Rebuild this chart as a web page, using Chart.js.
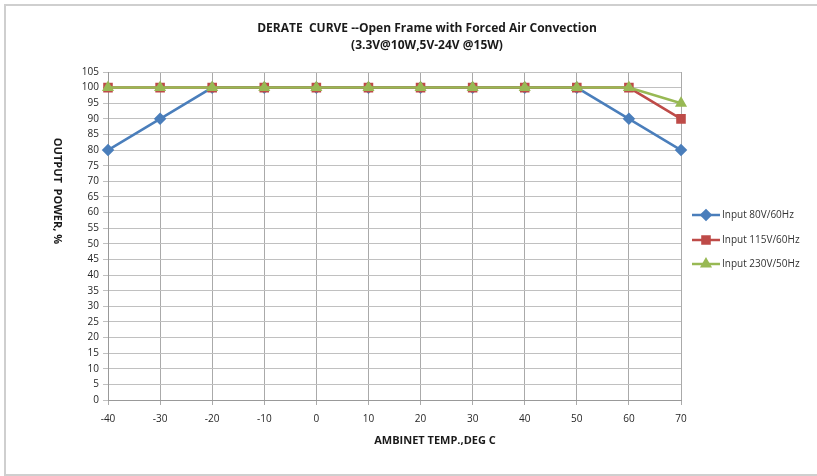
<!DOCTYPE html>
<html>
<head>
<meta charset="utf-8">
<script src="https://cdn.jsdelivr.net/npm/chart.js@4.4.0/dist/chart.umd.min.js"></script>
<style>
html,body{margin:0;padding:0;background:#fff;overflow:hidden;width:817px;height:476px;}
#frame{position:absolute;left:4px;top:4px;width:830px;height:468px;border:2px solid #cfcfcf;border-right:none;}
#wrap{position:absolute;left:0;top:0;width:817px;height:476px;}
</style>
</head>
<body>
<div id="frame"></div>
<div id="wrap"><canvas id="c" width="817" height="476"></canvas></div>
<script>
const categories = ['-40','-30','-20','-10','0','10','20','30','40','50','60','70'];
const input80 = [80,90,100,100,100,100,100,100,100,100,90,80];
const input115 = [100,100,100,100,100,100,100,100,100,100,100,90];
const input230 = [100,100,100,100,100,100,100,100,100,100,100,95];
const seriesNames = ['Input 80V/60Hz','Input 115V/60Hz','Input 230V/50Hz'];
const titleLines = ['DERATE  CURVE --Open Frame with Forced Air Convection','(3.3V@10W,5V-24V @15W)'];
const xTitle = 'AMBINET TEMP.,DEG C';
const yTitle = 'OUTPUT  POWER, %';

const FONT = '"Open Sans", "Liberation Sans", sans-serif';

const deco = {
  id: 'deco',
  afterDraw(chart) {
    const ctx = chart.ctx;
    ctx.save();
    ctx.fillStyle = '#1a1a1a';
    ctx.textAlign = 'center';
    ctx.textBaseline = 'middle';
    ctx.font = 'bold 12px ' + FONT;
    ctx.fillText(titleLines[0], 427, 29);
    ctx.fillText(titleLines[1], 427, 46);
    ctx.font = 'bold 11px ' + FONT;
    ctx.fillText(xTitle, 435, 441);
    ctx.save();
    ctx.translate(57, 191);
    ctx.rotate(Math.PI / 2);
    ctx.fillText(yTitle, 0, 0);
    ctx.restore();
    // legend
    const ys = [215, 240, 264];
    chart.data.datasets.forEach((ds, i) => {
      const y = ys[i];
      ctx.strokeStyle = ds.borderColor;
      ctx.lineWidth = 2.5;
      ctx.beginPath();
      ctx.moveTo(692, y);
      ctx.lineTo(720, y);
      ctx.stroke();
      ctx.fillStyle = ds.pointBackgroundColor;
      ctx.strokeStyle = ds.pointBorderColor;
      Chart.helpers.drawPoint(ctx, {pointStyle: ds.pointStyle, radius: ds.pointRadius, rotation: 0, borderWidth: 1}, 706, y);
      ctx.fillStyle = '#333';
      ctx.textAlign = 'left';
      ctx.font = '10px ' + FONT;
      ctx.fillText(ds.label, 722, y + 0.5);
    });
    ctx.restore();
  }
};

new Chart(document.getElementById('c'), {
  type: 'line',
  data: {
    labels: categories,
    datasets: [
      {label: seriesNames[0], order: 2, data: input80, borderColor: '#4A7EBB', backgroundColor: '#4A7EBB', pointBackgroundColor: '#4A7EBB', pointBorderColor: '#4A7EBB', pointStyle: 'rectRot', pointRadius: 4.5, borderWidth: 2.5, tension: 0},
      {label: seriesNames[1], order: 1, data: input115, borderColor: '#BE4B48', backgroundColor: '#BE4B48', pointBackgroundColor: '#BE4B48', pointBorderColor: '#BE4B48', pointStyle: 'rect', pointRadius: 5, borderWidth: 2.5, tension: 0},
      {label: seriesNames[2], order: 0, data: input230, borderColor: '#98B954', backgroundColor: '#98B954', pointBackgroundColor: '#98B954', pointBorderColor: '#98B954', pointStyle: 'triangle', pointRadius: 4.5, borderWidth: 2.5, tension: 0}
    ]
  },
  options: {
    responsive: false,
    animation: false,
    layout: {padding: {left: 0, right: 136, top: 72, bottom: 0}},
    plugins: {legend: {display: false}, title: {display: false}, tooltip: {enabled: false}},
    scales: {
      x: {
        offset: false,
        grid: {color: '#aaaaaa', lineWidth: 1, tickLength: 5, drawOnChartArea: true},
        border: {color: '#999999', width: 1},
        ticks: {color: '#262626', font: {family: FONT, size: 10}, padding: 8, maxRotation: 0, autoSkip: false},
        afterFit(s) { s.height = 76; }
      },
      y: {
        min: 0, max: 105,
        grid: {color: '#c0c0c0', lineWidth: 1, tickLength: 5},
        border: {color: '#999999', width: 1},
        ticks: {stepSize: 5, color: '#262626', font: {family: FONT, size: 10}, padding: 4},
        afterFit(s) { s.width = 108; }
      }
    }
  },
  plugins: [deco]
});
</script>
</body>
</html>
